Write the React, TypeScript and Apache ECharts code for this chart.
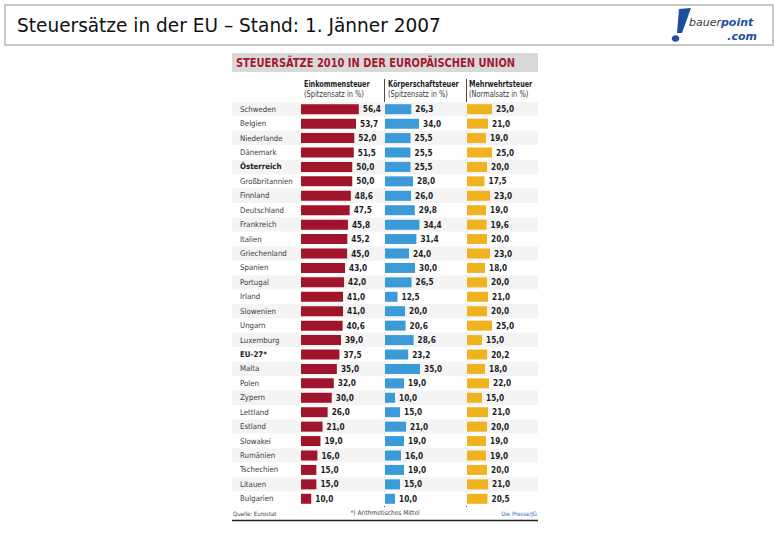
import React, { useEffect, useRef } from "react";
import * as echarts from "echarts";

const countries = [
  "Schweden", "Belgien", "Niederlande", "Dänemark", "Österreich", "Großbritannien",
  "Finnland", "Deutschland", "Frankreich", "Italien", "Griechenland", "Spanien",
  "Portugal", "Irland", "Slowenien", "Ungarn", "Luxemburg", "EU-27*", "Malta",
  "Polen", "Zypern", "Lettland", "Estland", "Slowakei", "Rumänien", "Tschechien",
  "Litauen", "Bulgarien",
];
const incomeTax = [
  56.4, 53.7, 52.0, 51.5, 50.0, 50.0, 48.6, 47.5, 45.8, 45.2, 45.0, 43.0, 42.0, 41.0,
  41.0, 40.6, 39.0, 37.5, 35.0, 32.0, 30.0, 26.0, 21.0, 19.0, 16.0, 15.0, 15.0, 10.0,
];
const corporateTax = [
  26.3, 34.0, 25.5, 25.5, 25.5, 28.0, 26.0, 29.8, 34.4, 31.4, 24.0, 30.0, 26.5, 12.5,
  20.0, 20.6, 28.6, 23.2, 35.0, 19.0, 10.0, 15.0, 21.0, 19.0, 16.0, 19.0, 15.0, 10.0,
];
const vatRate = [
  25.0, 21.0, 19.0, 25.0, 20.0, 17.5, 23.0, 19.0, 19.6, 20.0, 23.0, 18.0, 20.0, 21.0,
  20.0, 25.0, 15.0, 20.2, 18.0, 22.0, 15.0, 21.0, 20.0, 19.0, 19.0, 20.0, 21.0, 20.5,
];
const boldCountries = ["Österreich", "EU-27*"];
const columnHeaders = ["Einkommensteuer", "Körperschaftsteuer", "Mehrwehrtsteuer"];
const columnSubHeaders = ["(Spitzensatz in %)", "(Spitzensatz in %)", "(Normalsatz in %)"];
const slideTitle = "Steuersätze in der EU – Stand: 1. Jänner 2007";
const chartTitle = "STEUERSÄTZE 2010 IN DER EUROPÄISCHEN UNION";
const footerLeft = "Quelle: Eurostat";
const footerMid = "*) Arithmetisches Mittel";
const footerRight = "Die Presse/JG";

const NARROW = "'DejaVu Sans Condensed', 'Liberation Sans Narrow', sans-serif";
const RED = "#a0152b";
const BLUE = "#3b9bd8";
const YELLOW = "#f0b21f";

const fmt = (v: number) => v.toFixed(1).replace(".", ",");

export default function App() {
  const ref = useRef<HTMLDivElement>(null);
  useEffect(() => {
    if (!ref.current) return;
    const chart = echarts.init(ref.current, null, { renderer: "svg" });

    const panels = [
      { left: 301, width: 82, max: 80, data: incomeTax, color: RED },
      { left: 385, width: 60, max: 60, data: corporateTax, color: BLUE },
      { left: 467, width: 60, max: 60, data: vatRate, color: YELLOW },
    ];
    const top = 102;
    const height = 404;

    const grids: any[] = [{ left: 232, top, width: 306, height }];
    const xAxes: any[] = [{ gridIndex: 0, type: "value", min: 0, max: 1, show: false }];
    const yAxes: any[] = [
      {
        gridIndex: 0,
        type: "category",
        data: countries,
        inverse: true,
        axisLine: { show: false },
        axisTick: { show: false },
        axisLabel: { show: false, interval: 0 },
        splitLine: { show: false },
        splitArea: { show: true, interval: 0, areaStyle: { color: ["#f4f4f4", "#ffffff"] } },
      },
    ];
    const series: any[] = [];
    panels.forEach((p, i) => {
      const gi = i + 1;
      grids.push({ left: p.left, top, width: p.width, height });
      xAxes.push({ gridIndex: gi, type: "value", min: 0, max: p.max, show: false });
      yAxes.push({
        gridIndex: gi,
        type: "category",
        data: countries,
        inverse: true,
        axisLine: { show: false },
        axisTick: { show: false },
        splitLine: { show: false },
        axisLabel:
          i === 0
            ? {
                show: true,
                interval: 0,
                align: "left",
                margin: 61,
                fontFamily: NARROW,
                fontSize: 7.8,
                color: "#3a3a3a",
                formatter: (v: string) => (boldCountries.includes(v) ? `{b|${v}}` : v),
                rich: { b: { fontFamily: NARROW, fontSize: 7.8, fontWeight: "bold", color: "#1a1a1a" } },
              }
            : { show: false, interval: 0 },
      });
      series.push({
        type: "bar",
        xAxisIndex: gi,
        yAxisIndex: gi,
        data: p.data,
        barWidth: 10,
        itemStyle: { color: p.color },
        label: {
          show: true,
          position: "right",
          distance: 4,
          formatter: (q: any) => fmt(q.value),
          fontFamily: NARROW,
          fontSize: 8.2,
          fontWeight: "bold",
          color: "#1e1e1e",
        },
      });
    });

    const headerX = [304, 388, 469];
    const graphic: any[] = [
      {
        type: "rect",
        shape: { x: 5, y: 5, width: 768, height: 40 },
        style: { fill: "#ffffff", stroke: "#c8c8c8", lineWidth: 2 },
        silent: true,
      },
      {
        type: "text",
        x: 17,
        y: 25,
        scaleX: 0.975,
        style: {
          text: slideTitle,
          fontFamily: "'DejaVu Sans', Verdana, sans-serif",
          fontSize: 19,
          fill: "#111111",
          verticalAlign: "middle",
        },
      },
      {
        type: "polygon",
        shape: { points: [[679, 9], [691, 8], [682, 33], [677, 33]] },
        style: { fill: "#1d4f9e" },
      },
      { type: "ellipse", shape: { cx: 675.5, cy: 38.5, rx: 3.8, ry: 3.3 }, style: { fill: "#1d4f9e" } },
      {
        type: "text",
        x: 689,
        y: 22,
        style: {
          text: "{a|bauer}{b|point}",
          verticalAlign: "middle",
          rich: {
            a: { fontFamily: "'DejaVu Sans', sans-serif", fontStyle: "italic", fontSize: 11, fill: "#3a3a3a" },
            b: { fontFamily: "'DejaVu Sans', sans-serif", fontStyle: "italic", fontWeight: "bold", fontSize: 11, fill: "#1d4f9e" },
          },
        },
      },
      {
        type: "text",
        x: 757,
        y: 36,
        style: {
          text: ".com",
          align: "right",
          verticalAlign: "middle",
          fontFamily: "'DejaVu Sans', sans-serif",
          fontStyle: "italic",
          fontWeight: "bold",
          fontSize: 11,
          fill: "#1d4f9e",
        },
      },
      { type: "rect", shape: { x: 232, y: 53, width: 306, height: 19 }, style: { fill: "#d9d9d9" } },
      {
        type: "text",
        x: 236,
        y: 63,
        scaleX: 0.955,
        style: {
          text: chartTitle,
          fontFamily: NARROW,
          fontWeight: "bold",
          fontSize: 11.5,
          fill: "#a3192e",
          verticalAlign: "middle",
        },
      },
      { type: "line", shape: { x1: 384.5, y1: 79, x2: 384.5, y2: 507 }, style: { stroke: "#4a4a4a", lineWidth: 1 } },
      { type: "line", shape: { x1: 466.5, y1: 79, x2: 466.5, y2: 507 }, style: { stroke: "#4a4a4a", lineWidth: 1 } },
      { type: "line", shape: { x1: 232, y1: 520.5, x2: 538, y2: 520.5 }, style: { stroke: "#222222", lineWidth: 1.5 } },
      {
        type: "text",
        x: 233,
        y: 513,
        style: { text: footerLeft, fontFamily: NARROW, fontSize: 6, fill: "#444", verticalAlign: "middle" },
      },
      {
        type: "text",
        x: 385,
        y: 513,
        style: { text: footerMid, fontFamily: NARROW, fontSize: 6.5, fill: "#444", align: "center", verticalAlign: "middle" },
      },
      {
        type: "text",
        x: 537,
        y: 513,
        style: { text: footerRight, fontFamily: NARROW, fontSize: 6, fill: "#2f6fb5", align: "right", verticalAlign: "middle" },
      },
    ];
    columnHeaders.forEach((h, i) => {
      graphic.push({
        type: "text",
        x: headerX[i],
        y: 83.5,
        scaleX: 0.8,
        style: { text: h, fontFamily: NARROW, fontWeight: "bold", fontSize: 9, fill: "#1e1e1e", verticalAlign: "middle" },
      });
      graphic.push({
        type: "text",
        x: headerX[i],
        y: 93.5,
        scaleX: 0.82,
        style: { text: columnSubHeaders[i], fontFamily: NARROW, fontSize: 9, fill: "#3a3a3a", verticalAlign: "middle" },
      });
    });

    chart.setOption({
      animation: false,
      backgroundColor: "#ffffff",
      grid: grids,
      xAxis: xAxes,
      yAxis: yAxes,
      series,
      graphic,
    });
    return () => chart.dispose();
  }, []);

  return (
    <div
      ref={ref}
      style={{ position: "absolute", left: 0, top: 0, width: 780, height: 540 }}
    />
  );
}
